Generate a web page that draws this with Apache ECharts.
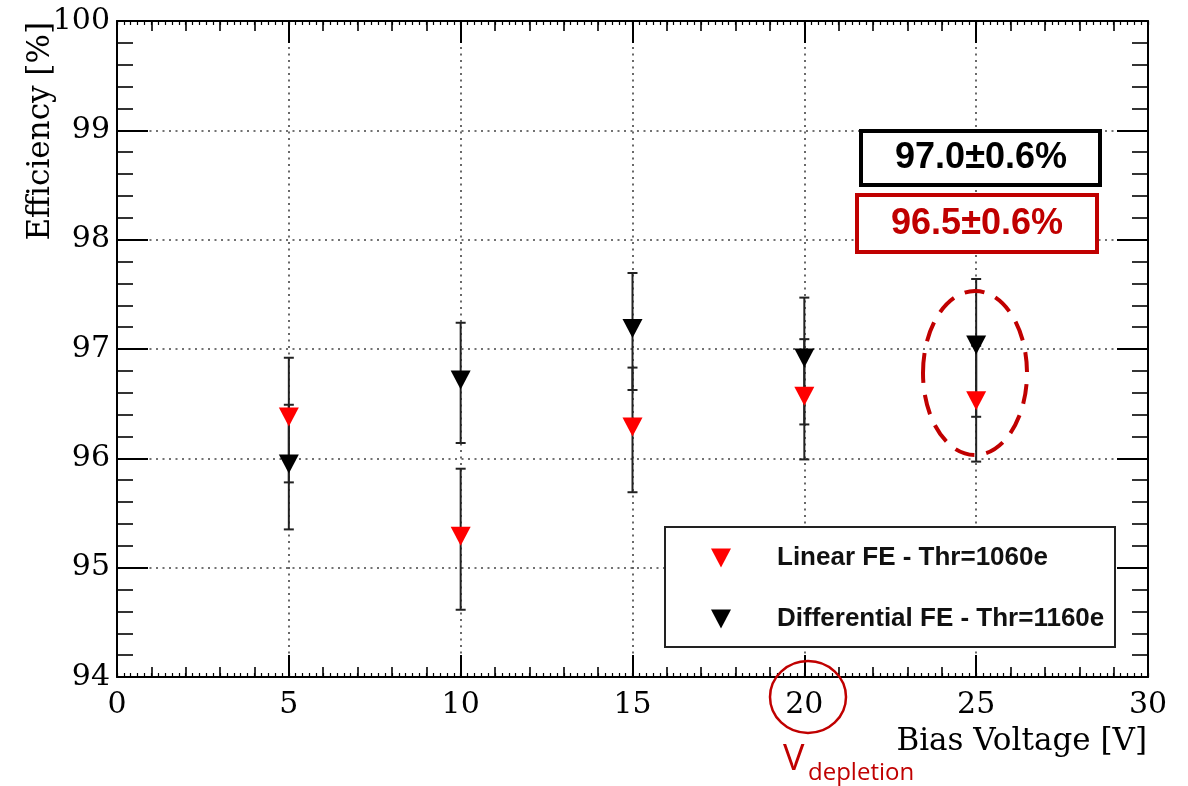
<!DOCTYPE html>
<html>
<head>
<meta charset="utf-8">
<script src="https://cdn.jsdelivr.net/npm/echarts@6/dist/echarts.min.js"></script>
<style>
html,body{margin:0;padding:0;background:#fff;}
#chart{width:1188px;height:786px;}
</style>
</head>
<body>
<div id="chart"></div>
<script>
// ---- data ----
const voltages = [5, 10, 15, 20, 25];
const linearEff = [96.35, 95.26, 96.26, 96.54, 96.50];
const linearErr = [0.57, 0.645, 0.57, 0.55, 0.53];
const diffEff = [95.92, 96.69, 97.16, 96.89, 97.01];
const diffErr = [0.57, 0.55, 0.535, 0.58, 0.63];
const xTicks = [0, 5, 10, 15, 20, 25, 30];
const yTicks = [94, 95, 96, 97, 98, 99, 100];
const seriesNames = ['Linear FE - Thr=1060e', 'Differential FE - Thr=1160e'];
const annotBlack = '97.0±0.6%';
const annotRed = '96.5±0.6%';

const DOWN_TRI = 'path://M0,0L20,0L10,19Z';
const RED = '#ff0000';
const DARKRED = '#c00000';
const SERIF = 'DejaVu Serif';

function errData(xs, ys, es) {
  return xs.map((x, i) => [x, ys[i] - es[i], ys[i] + es[i]]);
}
function errRender(params, api) {
  const x = api.value(0);
  const lo = api.coord([x, api.value(1)]);
  const hi = api.coord([x, api.value(2)]);
  const hw = 5;
  const st = { stroke: '#222', lineWidth: 2 };
  return {
    type: 'group',
    children: [
      { type: 'line', shape: { x1: lo[0], y1: lo[1], x2: hi[0], y2: hi[1] }, style: st },
      { type: 'line', shape: { x1: lo[0] - hw, y1: lo[1], x2: lo[0] + hw, y2: lo[1] }, style: st },
      { type: 'line', shape: { x1: hi[0] - hw, y1: hi[1], x2: hi[0] + hw, y2: hi[1] }, style: st }
    ]
  };
}

const dottedSplit = { show: true, lineStyle: { color: '#444', width: 1.6, type: [2, 4.5] } };
const xMin = xTicks[0], xMax = xTicks[xTicks.length - 1];
const yMin = yTicks[0], yMax = yTicks[yTicks.length - 1];

function xAxisDef(pos, main) {
  return {
    type: 'value', position: pos, min: xMin, max: xMax, interval: main ? 5 : 1,
    axisLine: { show: main, onZero: false, lineStyle: { color: '#000', width: 2 } },
    axisTick: { show: true, inside: true, length: main ? 22 : 4, lineStyle: { color: '#000', width: main ? 2 : 1.2 } },
    minorTick: { show: true, splitNumber: 5, length: main ? 10 : 4, lineStyle: { color: '#000', width: main ? 1.6 : 1.2 } },
    axisLabel: { show: main && pos === 'bottom', color: '#000', fontFamily: SERIF, fontSize: 30, margin: 13 },
    splitLine: (main && pos === 'bottom') ? dottedSplit : { show: false },
    minorSplitLine: { show: false }
  };
}
function yAxisDef(pos) {
  return {
    type: 'value', position: pos, min: yMin, max: yMax, interval: 1,
    axisLine: { show: true, onZero: false, lineStyle: { color: '#000', width: 2 } },
    axisTick: { show: true, inside: true, length: 31, lineStyle: { color: '#000', width: 2 } },
    minorTick: { show: true, splitNumber: 5, length: 16, lineStyle: { color: '#000', width: 1.6 } },
    axisLabel: { show: pos === 'left', color: '#000', fontFamily: SERIF, fontSize: 30, margin: 7 },
    splitLine: pos === 'left' ? dottedSplit : { show: false }
  };
}

const chart = echarts.init(document.getElementById('chart'), null, { renderer: 'canvas' });
chart.setOption({
  animation: false,
  backgroundColor: '#fff',
  grid: { left: 117, right: 40, top: 21, bottom: 109, containLabel: false },
  xAxis: [xAxisDef('bottom', true), xAxisDef('bottom', false), xAxisDef('top', true), xAxisDef('top', false)],
  yAxis: [yAxisDef('left'), yAxisDef('right')],
  legend: {
    orient: 'vertical', left: 706, top: 540, itemWidth: 20, itemHeight: 19, itemGap: 35, z: 10,
    textStyle: { fontFamily: 'Liberation Sans', fontWeight: 'bold', fontSize: 26, color: '#111', padding: [0, 0, 0, 41] },
    data: [
      { name: seriesNames[0], icon: DOWN_TRI, itemStyle: { color: RED, opacity: 1 } },
      { name: seriesNames[1], icon: DOWN_TRI, itemStyle: { color: '#000', opacity: 1 } }
    ],
    selectedMode: false
  },
  series: [
    { type: 'custom', name: 'errLin', renderItem: errRender, data: errData(voltages, linearEff, linearErr), encode: { x: 0, y: [1, 2] }, z: 2, silent: true },
    { type: 'custom', name: 'errDiff', renderItem: errRender, data: errData(voltages, diffEff, diffErr), encode: { x: 0, y: [1, 2] }, z: 2, silent: true },
    { type: 'scatter', name: seriesNames[0], data: voltages.map((x, i) => [x, linearEff[i]]), symbol: DOWN_TRI, symbolSize: [20, 19], symbolOffset: [0, -3], itemStyle: { color: RED, opacity: 1 }, z: 3 },
    { type: 'scatter', name: seriesNames[1], data: voltages.map((x, i) => [x, diffEff[i]]), symbol: DOWN_TRI, symbolSize: [20, 19], symbolOffset: [0, -3], itemStyle: { color: '#000', opacity: 1 }, z: 3 }
  ],
  graphic: [
    { type: 'rect', z: 5, shape: { x: 665, y: 527, width: 450, height: 120 }, style: { fill: '#fff', stroke: '#222', lineWidth: 2 } },
    { type: 'rect', z: 5, shape: { x: 861, y: 131, width: 239, height: 54 }, style: { fill: '#fff', stroke: '#000', lineWidth: 4 } },
    { type: 'text', z: 6, x: 981, y: 158, style: { text: annotBlack, fill: '#000', font: 'bold 36px "Liberation Sans"', align: 'center', verticalAlign: 'middle' } },
    { type: 'rect', z: 5, shape: { x: 857, y: 195, width: 240, height: 57 }, style: { fill: '#fff', stroke: DARKRED, lineWidth: 4 } },
    { type: 'text', z: 6, x: 977, y: 224, style: { text: annotRed, fill: DARKRED, font: 'bold 36px "Liberation Sans"', align: 'center', verticalAlign: 'middle' } },
    { type: 'ellipse', z: 7, shape: { cx: 975, cy: 373, rx: 52, ry: 82 }, style: { fill: null, stroke: DARKRED, lineWidth: 4, lineDash: [20, 12] } },
    { type: 'ellipse', z: 7, shape: { cx: 808, cy: 697, rx: 38, ry: 36 }, style: { fill: null, stroke: DARKRED, lineWidth: 2.5 } },
    { type: 'text', z: 6, x: 783, y: 760, style: { text: 'V', fill: DARKRED, font: '36px "Open Sans"', align: 'left', verticalAlign: 'middle' } },
    { type: 'text', z: 6, x: 808, y: 773, style: { text: 'depletion', fill: DARKRED, font: '24px "Open Sans"', align: 'left', verticalAlign: 'middle' } },
    { type: 'text', z: 6, x: 1147, y: 742, style: { text: 'Bias Voltage [V]', fill: '#000', font: '31px "DejaVu Serif"', align: 'right', verticalAlign: 'middle' } },
    { type: 'text', z: 6, x: 41, y: 22, rotation: Math.PI / 2, style: { text: 'Efficiency [%]', fill: '#000', font: '31px "DejaVu Serif"', align: 'right', verticalAlign: 'middle' } }
  ]
});
</script>
</body>
</html>
